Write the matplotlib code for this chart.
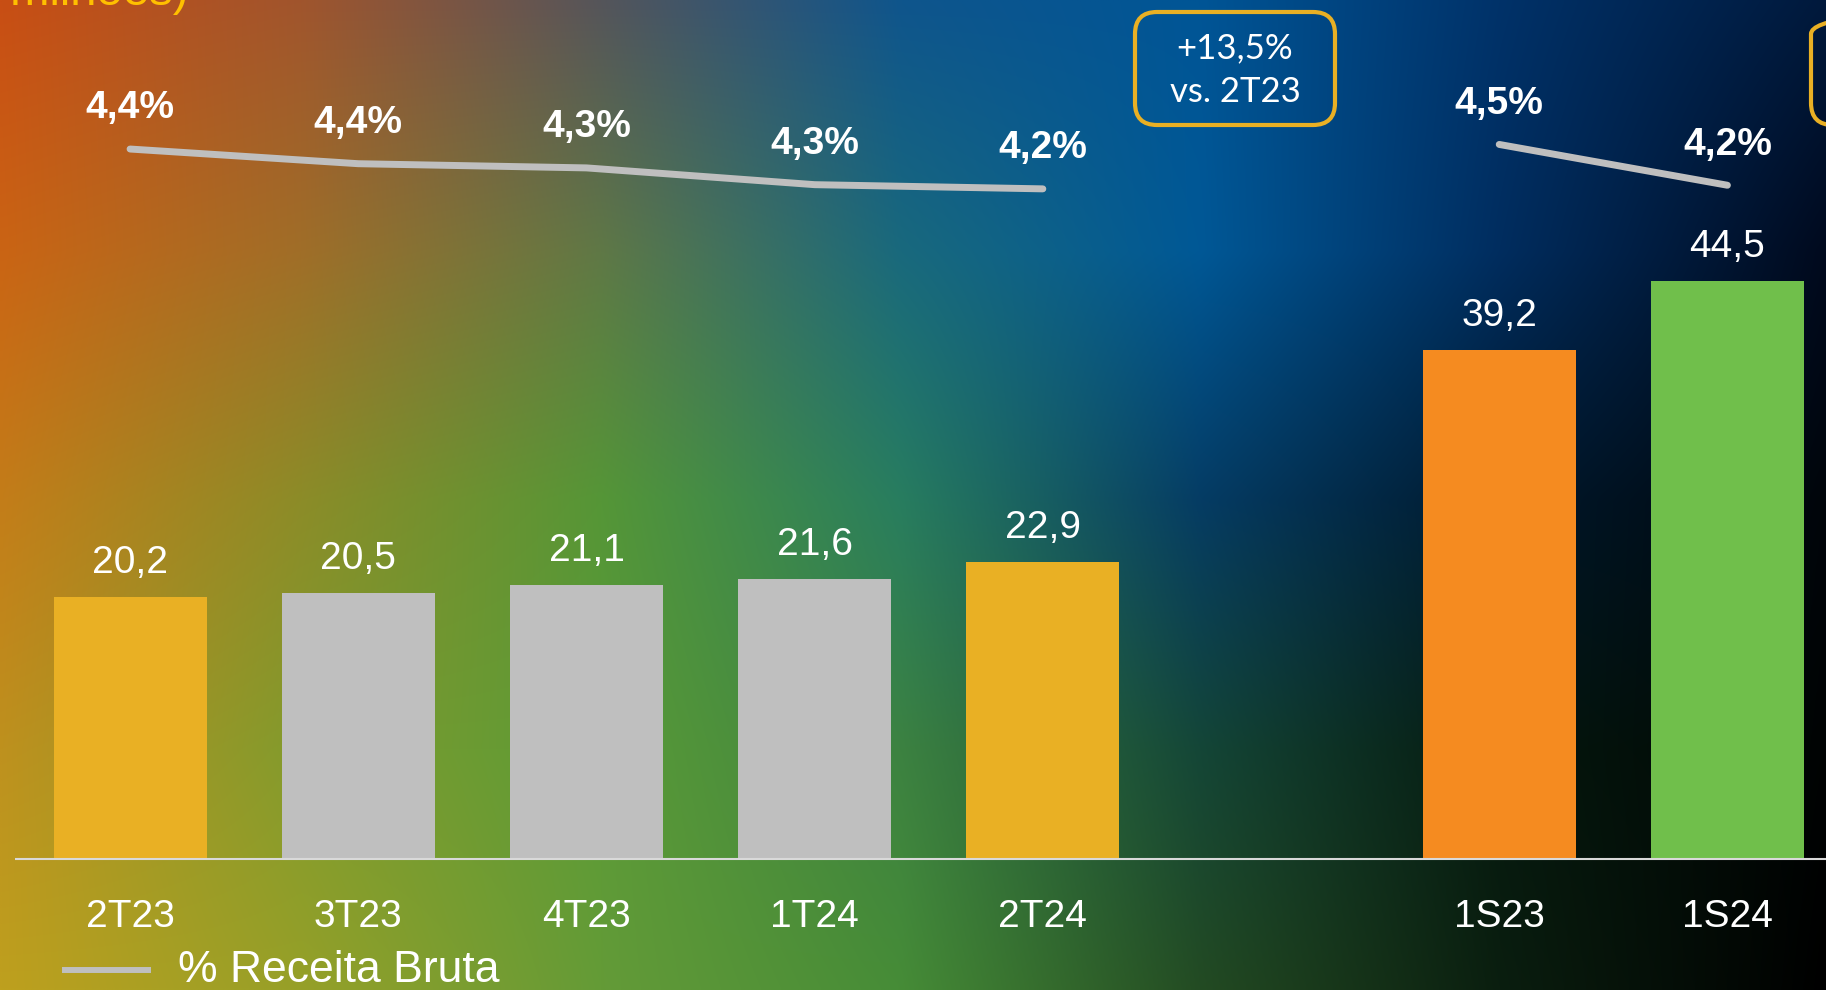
import numpy as np
import matplotlib
matplotlib.use('Agg')
import matplotlib.pyplot as plt
from matplotlib.patches import FancyBboxPatch
from matplotlib.lines import Line2D
from matplotlib.transforms import IdentityTransform

# dados (R$ milhões / % da receita bruta)
trimestres = ['2T23', '3T23', '4T23', '1T24', '2T24']
despesa_tri = [20.2, 20.5, 21.1, 21.6, 22.9]
pct_tri = [4.43, 4.36, 4.34, 4.26, 4.24]
cores_tri = ['#E9B024', '#BFBFBF', '#BFBFBF', '#BFBFBF', '#E9B024']

semestres = ['1S23', '1S24']
despesa_sem = [39.2, 44.5]
pct_sem = [4.5, 4.2]
cores_sem = ['#F58B20', '#70BF4B']

W, H = 1826, 990
plt.rcParams['font.family'] = ['Liberation Sans', 'DejaVu Sans']

fig = plt.figure(figsize=(W / 100, H / 100), dpi=100)

# fundo em degradê (laranja / azul / verde / preto)
gx = np.array([0, 300, 600, 900, 1200, 1500, 1826])
gy = np.array([0, 250, 500, 750, 990])
grade = np.array([
    [(200, 78, 20), (160, 85, 45), (85, 85, 90), (15, 85, 140), (0, 85, 150), (0, 50, 105), (0, 25, 60)],
    [(202, 100, 20), (160, 110, 40), (95, 120, 70), (25, 105, 125), (0, 88, 150), (0, 45, 95), (0, 10, 30)],
    [(195, 125, 25), (140, 140, 40), (85, 150, 55), (40, 125, 95), (5, 60, 100), (0, 25, 45), (0, 5, 10)],
    [(190, 145, 30), (130, 155, 45), (90, 155, 55), (60, 130, 65), (20, 70, 55), (5, 25, 15), (0, 3, 3)],
    [(190, 160, 30), (150, 160, 40), (100, 155, 55), (70, 140, 55), (35, 75, 35), (10, 30, 15), (0, 0, 0)],
], dtype=float) / 255
xs = np.linspace(0, W, 400)
ys = np.linspace(0, H, 220)
tmp = np.stack([np.stack([np.interp(xs, gx, grade[i, :, c]) for c in range(3)], -1) for i in range(len(gy))])
img = np.stack([np.stack([np.interp(ys, gy, tmp[:, j, c]) for c in range(3)], -1) for j in range(len(xs))], 1)

ax_bg = fig.add_axes([0, 0, 1, 1], zorder=0)
ax_bg.imshow(img, extent=[0, 1, 0, 1], aspect='auto', origin='upper', interpolation='bilinear')
ax_bg.axis('off')

ax = fig.add_axes([0, 0, 1, 1], zorder=1)
ax.patch.set_alpha(0)

x_tri = np.arange(len(trimestres))
x_sem = np.arange(len(semestres)) + len(trimestres) + 1
largura = 0.67

ax.bar(x_tri, despesa_tri, width=largura, color=cores_tri)
ax.bar(x_sem, despesa_sem, width=largura, color=cores_sem)
ax.set_xlim(-0.570, 7.432)
ax.set_ylim(-10.05, 66.1)
ax.plot([-0.504, 7.432], [0, 0], color='#D9D9D9', lw=1.5, solid_capstyle='butt')

for xs_, vals, labs in [(x_tri, despesa_tri, trimestres), (x_sem, despesa_sem, semestres)]:
    for x, v, lab in zip(xs_, vals, labs):
        ax.annotate(f'{v:.1f}'.replace('.', ','), (x, v), xytext=(0, 17), textcoords='offset points',
                    ha='center', va='baseline', fontsize=28, color='white')
        ax.annotate(lab, (x, 0), xytext=(0, -49), textcoords='offset points',
                    ha='center', va='baseline', fontsize=28, color='white')
ax.axis('off')

cinza = '#BFBFBF'
for xs_, vals, lim in [(x_tri, pct_tri, (0.418, 5.141)), (x_sem, pct_sem, (-1.717, 5.562))]:
    tw = ax.twinx()
    tw.set_zorder(2)
    tw.patch.set_alpha(0)
    tw.plot(xs_, vals, color=cinza, lw=5, solid_capstyle='round', solid_joinstyle='round')
    tw.set_ylim(*lim)
    for x, v in zip(xs_, vals):
        tw.annotate(f'{v:.1f}'.replace('.', ',') + '%', (x, v), xytext=(0, 22), textcoords='offset points',
                    ha='center', va='baseline', fontsize=28, fontweight='bold', color='white')
    tw.axis('off')

# legenda
fig.add_artist(Line2D([65 / W, 148 / W], [1 - 970 / H, 1 - 970 / H], color=cinza, lw=4.3))
fig.text(178 / W, 1 - 970 / H, '% Receita Bruta', color='white', fontsize=32, va='center', ha='left')

# título cortado no topo
fig.text(188 / W, 1 - 5 / H, '(R$ milhões)', color='#FFC000', fontsize=34, ha='right', va='baseline')

# caixas de variação
caixa = FancyBboxPatch((1135, H - 125), 200, 113, boxstyle='round,pad=0,rounding_size=22',
                       transform=IdentityTransform(), fc='none', ec='#E9B024', lw=3, zorder=5)
fig.add_artist(caixa)
fig.text(1235 / W, 1 - 70 / H, '+13,5%\nvs. 2T23', color='white', fontsize=25, ha='center', va='center',
         family=['Lato', 'DejaVu Sans'], linespacing=1.45)
caixa2 = FancyBboxPatch((1811, H - 125), 200, 113, boxstyle='round,pad=0,rounding_size=22',
                        transform=IdentityTransform(), fc='none', ec='#E9B024', lw=3, zorder=5)
fig.add_artist(caixa2)

fig.savefig('out.png', dpi=100)
